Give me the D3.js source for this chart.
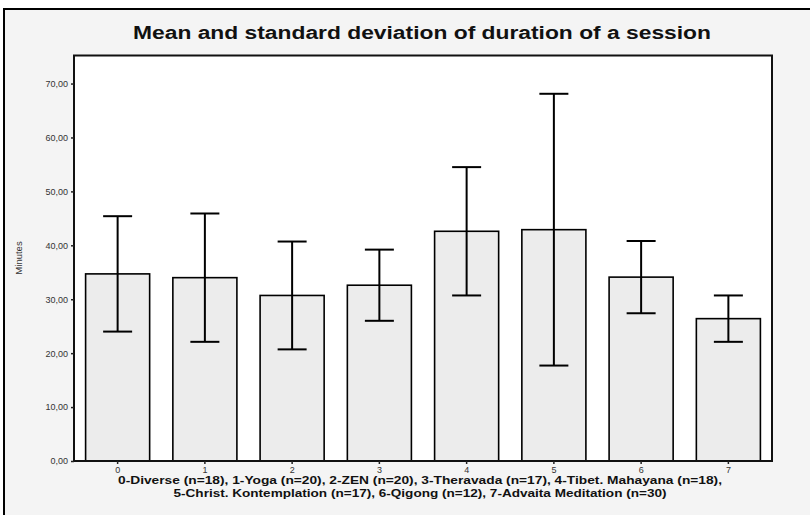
<!DOCTYPE html>
<html><head><meta charset="utf-8">
<script src="https://cdn.jsdelivr.net/npm/d3@7"></script>
<style>html,body{margin:0;padding:0;background:#fff;}svg{display:block;}</style>
</head><body>
<script>
const categories = ["0","1","2","3","4","5","6","7"];
const means = [34.7, 34.0, 30.7, 32.6, 42.6, 42.9, 34.1, 26.4];
const sds = [10.7, 11.9, 10.0, 6.6, 11.9, 25.2, 6.7, 4.3];
const yTicks = [0,10,20,30,40,50,60,70];
const title = "Mean and standard deviation of duration of a session";
const xTitle1 = "0-Diverse (n=18), 1-Yoga (n=20), 2-ZEN (n=20), 3-Theravada (n=17), 4-Tibet. Mahayana (n=18),";
const xTitle2 = "5-Christ. Kontemplation (n=17), 6-Qigong (n=12), 7-Advaita Meditation (n=30)";
const yTitle = "Minutes";

const W = 810, H = 515;
const svg = d3.select("body").append("svg").attr("width", W).attr("height", H);
svg.append("rect").attr("x",0).attr("y",0).attr("width",W).attr("height",H).attr("fill","#fff");
svg.append("rect").attr("x",4).attr("y",9).attr("width",W+10).attr("height",H+10)
  .attr("fill","#f4f4f4").attr("stroke","#000").attr("stroke-width",2);

const L = 74, R = 772, T = 55.5, B = 461;
const x = d3.scaleBand().domain(categories).range([L, R]).paddingInner(0.266).paddingOuter(0.133);
const y = d3.scaleLinear().domain([0, 75.2]).range([B, T]);

svg.append("rect").attr("x",L).attr("y",T).attr("width",R-L).attr("height",B-T).attr("fill","#fff");

const data = categories.map((c,i)=>({c, m: means[i], s: sds[i]}));

svg.selectAll("rect.bar").data(data).enter().append("rect").attr("class","bar")
  .attr("x", d=>x(d.c)).attr("y", d=>y(d.m)).attr("width", x.bandwidth()).attr("height", d=>y(0)-y(d.m))
  .attr("fill","#ececec").attr("stroke","#000").attr("stroke-width",1.6);

const cap = 14.5;
const eb = svg.selectAll("g.eb").data(data).enter().append("g").attr("stroke","#000").attr("stroke-width",2);
eb.append("line").attr("x1",d=>x(d.c)+x.bandwidth()/2).attr("x2",d=>x(d.c)+x.bandwidth()/2)
  .attr("y1",d=>y(d.m-d.s)).attr("y2",d=>y(d.m+d.s));
eb.append("line").attr("x1",d=>x(d.c)+x.bandwidth()/2-cap).attr("x2",d=>x(d.c)+x.bandwidth()/2+cap)
  .attr("y1",d=>y(d.m+d.s)).attr("y2",d=>y(d.m+d.s));
eb.append("line").attr("x1",d=>x(d.c)+x.bandwidth()/2-cap).attr("x2",d=>x(d.c)+x.bandwidth()/2+cap)
  .attr("y1",d=>y(d.m-d.s)).attr("y2",d=>y(d.m-d.s));

// frame
svg.append("rect").attr("x",L).attr("y",T).attr("width",R-L).attr("height",B-T)
  .attr("fill","none").attr("stroke","#111").attr("stroke-width",2);

const fmt = d => d.toFixed(2).replace(".", ",");
const yAxis = svg.append("g").attr("transform",`translate(${L},0)`)
  .call(d3.axisLeft(y).tickValues(yTicks).tickFormat(fmt).tickSize(3).tickPadding(3));
yAxis.select(".domain").remove();
yAxis.selectAll("text").attr("font-family","Liberation Sans, Arial, sans-serif").attr("font-size","9px").attr("fill","#333");
yAxis.selectAll("line").attr("stroke","#222").attr("stroke-width",1.5);

const xAxis = svg.append("g").attr("transform",`translate(0,${B})`)
  .call(d3.axisBottom(x).tickSize(3).tickPadding(3));
xAxis.select(".domain").remove();
xAxis.selectAll("text").attr("font-family","Liberation Sans, Arial, sans-serif").attr("font-size","9px").attr("fill","#333");
xAxis.selectAll("line").attr("stroke","#222").attr("stroke-width",1.5);

svg.append("text").attr("x",422).attr("y",39).attr("text-anchor","middle")
  .attr("font-family","Liberation Sans, Arial, sans-serif").attr("font-weight","bold").attr("font-size","18px")
  .attr("fill","#111").attr("textLength",578).attr("lengthAdjust","spacingAndGlyphs").text(title);

svg.append("text").attr("x",420).attr("y",484).attr("text-anchor","middle")
  .attr("font-family","Liberation Sans Narrow, Arial Narrow, Liberation Sans, sans-serif").attr("font-weight","bold").attr("font-size","11px")
  .attr("fill","#111").attr("textLength",604).attr("lengthAdjust","spacingAndGlyphs").text(xTitle1);
svg.append("text").attr("x",420).attr("y",497).attr("text-anchor","middle")
  .attr("font-family","Liberation Sans Narrow, Arial Narrow, Liberation Sans, sans-serif").attr("font-weight","bold").attr("font-size","11px")
  .attr("fill","#111").attr("textLength",493).attr("lengthAdjust","spacingAndGlyphs").text(xTitle2);

svg.append("text").attr("transform","translate(22,258) rotate(-90)").attr("text-anchor","middle")
  .attr("font-family","Liberation Sans, Arial, sans-serif").attr("font-size","9.5px").attr("fill","#333").text(yTitle);
</script>
</body></html>
